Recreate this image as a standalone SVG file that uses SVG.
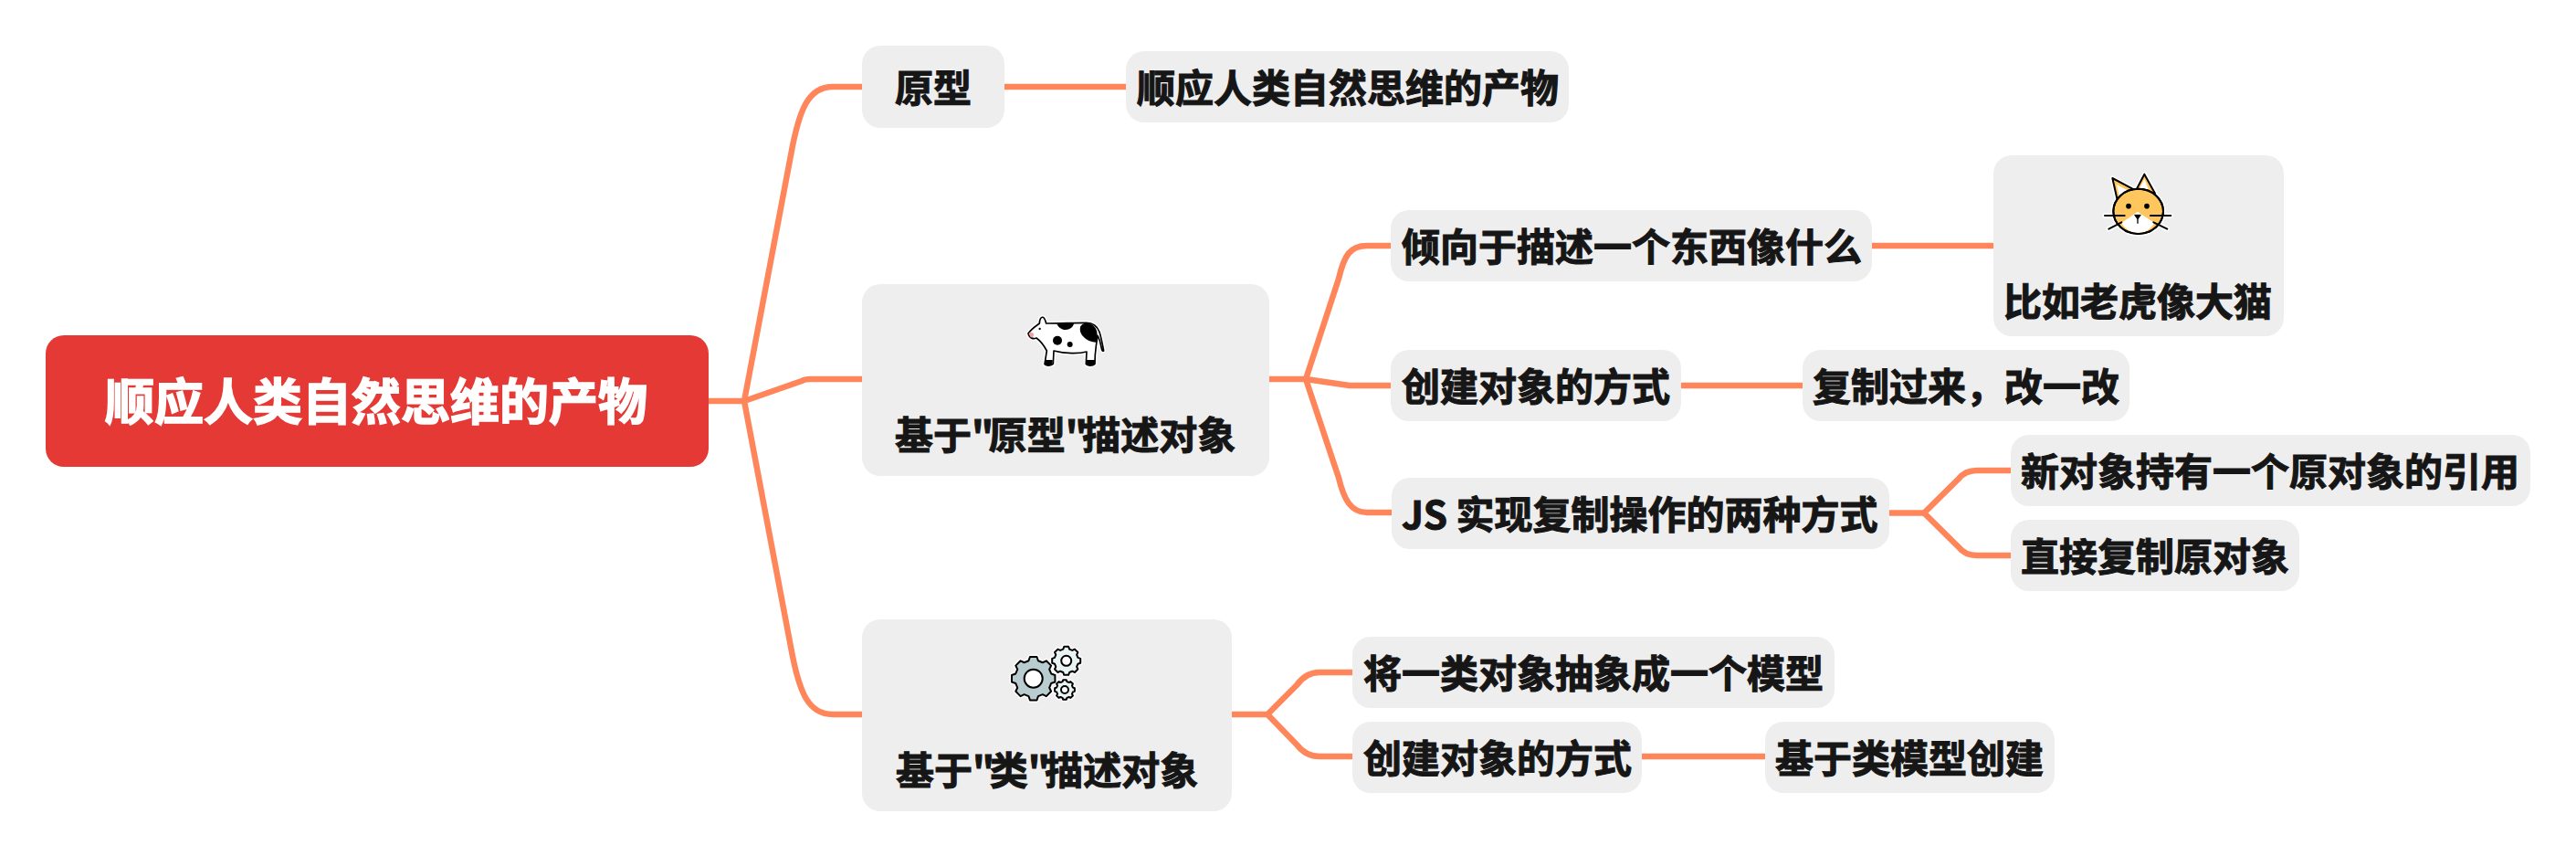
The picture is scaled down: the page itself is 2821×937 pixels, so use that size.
<svg xmlns="http://www.w3.org/2000/svg" width="2821" height="937" viewBox="0 0 2821 937">
<style>
.n{fill:#eeeeee}
.r{fill:#e53935}
text{font-family:"Noto Sans CJK SC","Noto Sans",sans-serif;font-weight:700;font-size:42px;fill:#161616;stroke:#161616;stroke-width:1.1}
.rt{font-size:54px;fill:#ffffff;stroke:#ffffff;stroke-width:1.6}
.q{letter-spacing:-5.5px}
#connectors path{fill:none;stroke:#ff855a;stroke-width:6.5;stroke-linejoin:round}
.g{vector-effect:non-scaling-stroke}
</style>
<defs>
<path id="gear" class="g" d="M81.1,-21.8L98.8,-15.6L98.8,15.6L81.1,21.8L72.7,42L80.9,58.8L58.8,80.9L42,72.7L21.8,81.1L15.6,98.8L-15.6,98.8L-21.8,81.1L-42,72.7L-58.8,80.9L-80.9,58.8L-72.7,42L-81.1,21.8L-98.8,15.6L-98.8,-15.6L-81.1,-21.8L-72.7,-42L-80.9,-58.8L-58.8,-80.9L-42,-72.7L-21.8,-81.1L-15.6,-98.8L15.6,-98.8L21.8,-81.1L42,-72.7L58.8,-80.9L80.9,-58.8L72.7,-42Z"/>
<path id="cowBody" d="M78,105C90,88 105,80 115,72C115,60 120,50 126,52C132,54 135,64 137,72C180,72 230,70 270,70C290,70 305,82 312,100C318,120 322,140 326,162C322,165 320,160 318,150C315,135 312,122 306,112C303,130 300,150 298,175L297,205C290,212 272,212 268,206L270,165C245,172 200,172 162,162L160,205C150,212 136,212 132,206L139,162C130,145 122,132 105,120C95,124 82,122 78,105Z"/>
</defs>
<g id="connectors">
<path d="M776,439H815L866,170C875,120 885,95 912,95H944"/>
<path d="M815,439L878,417Q881,415 888,415H944"/>
<path d="M815,439L866,708C875,758 885,782 912,782H944"/>
<path d="M1100,95H1233"/>
<path d="M1390,415H1430L1466,305C1472,280 1478,269 1497,269H1523"/>
<path d="M1430,415L1478,422H1523"/>
<path d="M1430,415L1466,523C1472,548 1480,561 1497,561H1524"/>
<path d="M2050,269H2183"/>
<path d="M1840,422H1974"/>
<path d="M2069,561.5H2107L2145,524Q2152,515 2165,515H2202"/>
<path d="M2107,561.5L2145,599Q2152,608 2165,608H2202"/>
<path d="M1348,782H1388L1420,750Q1430,736 1445,736H1481"/>
<path d="M1388,782L1420,815Q1430,828 1445,828H1481"/>
<path d="M1798,828H1933"/>
</g>
<g id="root"><rect class="r" x="50" y="367" width="726" height="144" rx="20"/><text class="rt" x="115" y="460">顺应人类自然思维的产物</text></g>
<g id="n-prototype"><rect class="n" x="944" y="50" width="156" height="90" rx="20"/><text x="980" y="112">原型</text></g>
<g id="n-natural"><rect class="n" x="1233" y="56" width="485" height="78" rx="20"/><text x="1245" y="112">顺应人类自然思维的产物</text></g>
<g id="n-proto-desc"><rect class="n" x="944" y="311" width="446" height="210" rx="20"/>
<g id="cow" transform="translate(1100,330) scale(0.3333)">
<use href="#cowBody" fill="none" stroke="#ffffff" stroke-width="14" stroke-linejoin="round"/>
<use href="#cowBody" fill="#ffffff" stroke="#000000" stroke-width="5" stroke-linejoin="round"/>
<path d="M172,74C185,72 215,72 228,72C225,92 190,106 172,74Z" fill="#000000"/>
<path d="M262,72C285,68 300,82 304,100C306,118 304,128 302,134C275,135 240,110 250,82C254,76 258,73 262,72Z" fill="#000000"/>
<circle cx="174" cy="128" r="15" fill="#000000"/>
<circle cx="215" cy="141" r="9" fill="#000000"/>
<circle cx="116" cy="90" r="3.5" fill="#000000"/>
<path d="M80,106C84,100 90,100 96,106C98,114 92,120 86,118Z" fill="#f4a0a0"/>
<path d="M134,192h24v15q-12,7-26,0ZM270,192h27v15q-14,7-28,0Z" fill="#000000"/>
</g>
<text x="980" y="492">基于<tspan class="q">"</tspan>原型<tspan class="q">"</tspan>描述对象</text></g>
<g id="n-like"><rect class="n" x="1523" y="230" width="527" height="78" rx="20"/><text x="1535" y="286">倾向于描述一个东西像什么</text></g>
<g id="n-tiger"><rect class="n" x="2183" y="170" width="318" height="198" rx="20"/>
<g id="cat" transform="translate(2290,180) scale(0.3333)">
<g fill="none" stroke="#ffffff" stroke-width="16" stroke-linejoin="round" stroke-linecap="round">
<path d="M70,45L140,82L85,112ZM150,80L175,32L210,95Z"/><ellipse cx="155" cy="154" rx="82" ry="74"/><path d="M45,168H110M195,168H262M58,212L100,190M205,190L250,212"/>
</g>
<path d="M70,45L140,82L85,112Z" fill="#fec65c" stroke="#000" stroke-width="6" stroke-linejoin="round"/>
<path d="M150,80L175,32L210,95Z" fill="#fec65c" stroke="#000" stroke-width="6" stroke-linejoin="round"/>
<path d="M84,66L122,86L92,102ZM160,78L175,48L190,84Z" fill="#ffffff"/>
<ellipse cx="155" cy="154" rx="82" ry="74" fill="#fec65c" stroke="#000" stroke-width="6"/>
<path d="M100,192L153,155L208,192C195,215 175,225 155,225C135,225 112,215 100,192Z" fill="#ffffff"/>
<ellipse cx="155" cy="154" rx="82" ry="74" fill="none" stroke="#000" stroke-width="6"/>
<circle cx="123" cy="137" r="8.5" fill="#000"/><circle cx="183" cy="137" r="8.5" fill="#000"/>
<path d="M143,166H163L153,180Z" fill="#000" stroke="#000" stroke-width="3" stroke-linejoin="round"/><path d="M153,178V194" stroke="#000" stroke-width="4"/>
<path d="M45,168H110M195,168H262M58,212L100,190M205,190L250,212" fill="none" stroke="#000" stroke-width="6" stroke-linecap="round"/>
</g>
<text x="2194" y="346">比如老虎像大猫</text></g>
<g id="n-create"><rect class="n" x="1523" y="383" width="318" height="78" rx="20"/><text x="1535" y="439">创建对象的方式</text></g>
<g id="n-copy"><rect class="n" x="1974" y="383" width="358" height="78" rx="20"/><text x="1985" y="439">复制过来，改一改</text></g>
<g id="n-js"><rect class="n" x="1524" y="523" width="545" height="78" rx="20"/><text x="1535" y="579">JS 实现复制操作的两种方式</text></g>
<g id="n-ref"><rect class="n" x="2202" y="476" width="569" height="78" rx="20"/><text x="2213" y="532">新对象持有一个原对象的引用</text></g>
<g id="n-direct"><rect class="n" x="2202" y="569" width="316" height="78" rx="20"/><text x="2213" y="625">直接复制原对象</text></g>
<g id="n-class-desc"><rect class="n" x="944" y="678" width="405" height="210" rx="20"/>
<g id="gears">
<use href="#gear" transform="translate(1131.7,742.7) scale(0.24)" fill="#ffffff" stroke="#ffffff" stroke-width="5" stroke-linejoin="round"/>
<use href="#gear" transform="translate(1167.7,723.3) scale(0.157)" fill="#ffffff" stroke="#ffffff" stroke-width="5" stroke-linejoin="round"/>
<use href="#gear" transform="translate(1166,755) scale(0.11)" fill="#ffffff" stroke="#ffffff" stroke-width="5" stroke-linejoin="round"/>
<use href="#gear" transform="translate(1131.7,742.7) scale(0.24)" fill="#b9cdd0" stroke="#000" stroke-width="2" stroke-linejoin="round"/>
<use href="#gear" transform="translate(1167.7,723.3) scale(0.157)" fill="#e8f3f3" stroke="#000" stroke-width="2" stroke-linejoin="round"/>
<use href="#gear" transform="translate(1166,755) scale(0.11)" fill="#e8f3f3" stroke="#000" stroke-width="2" stroke-linejoin="round"/>
<circle cx="1131.7" cy="742.7" r="10" fill="#fff" stroke="#000" stroke-width="2"/>
<circle cx="1167.7" cy="723.3" r="5.5" fill="#fff" stroke="#000" stroke-width="2"/>
<circle cx="1166" cy="755" r="4" fill="#fff" stroke="#000" stroke-width="2"/>
</g>
<text x="981" y="859">基于<tspan class="q">"</tspan>类<tspan class="q">"</tspan>描述对象</text></g>
<g id="n-abstract"><rect class="n" x="1481" y="697" width="528" height="78" rx="20"/><text x="1493" y="753">将一类对象抽象成一个模型</text></g>
<g id="n-create2"><rect class="n" x="1481" y="790" width="317" height="78" rx="20"/><text x="1493" y="846">创建对象的方式</text></g>
<g id="n-model"><rect class="n" x="1933" y="790" width="317" height="78" rx="20"/><text x="1944" y="846">基于类模型创建</text></g>
</svg>
